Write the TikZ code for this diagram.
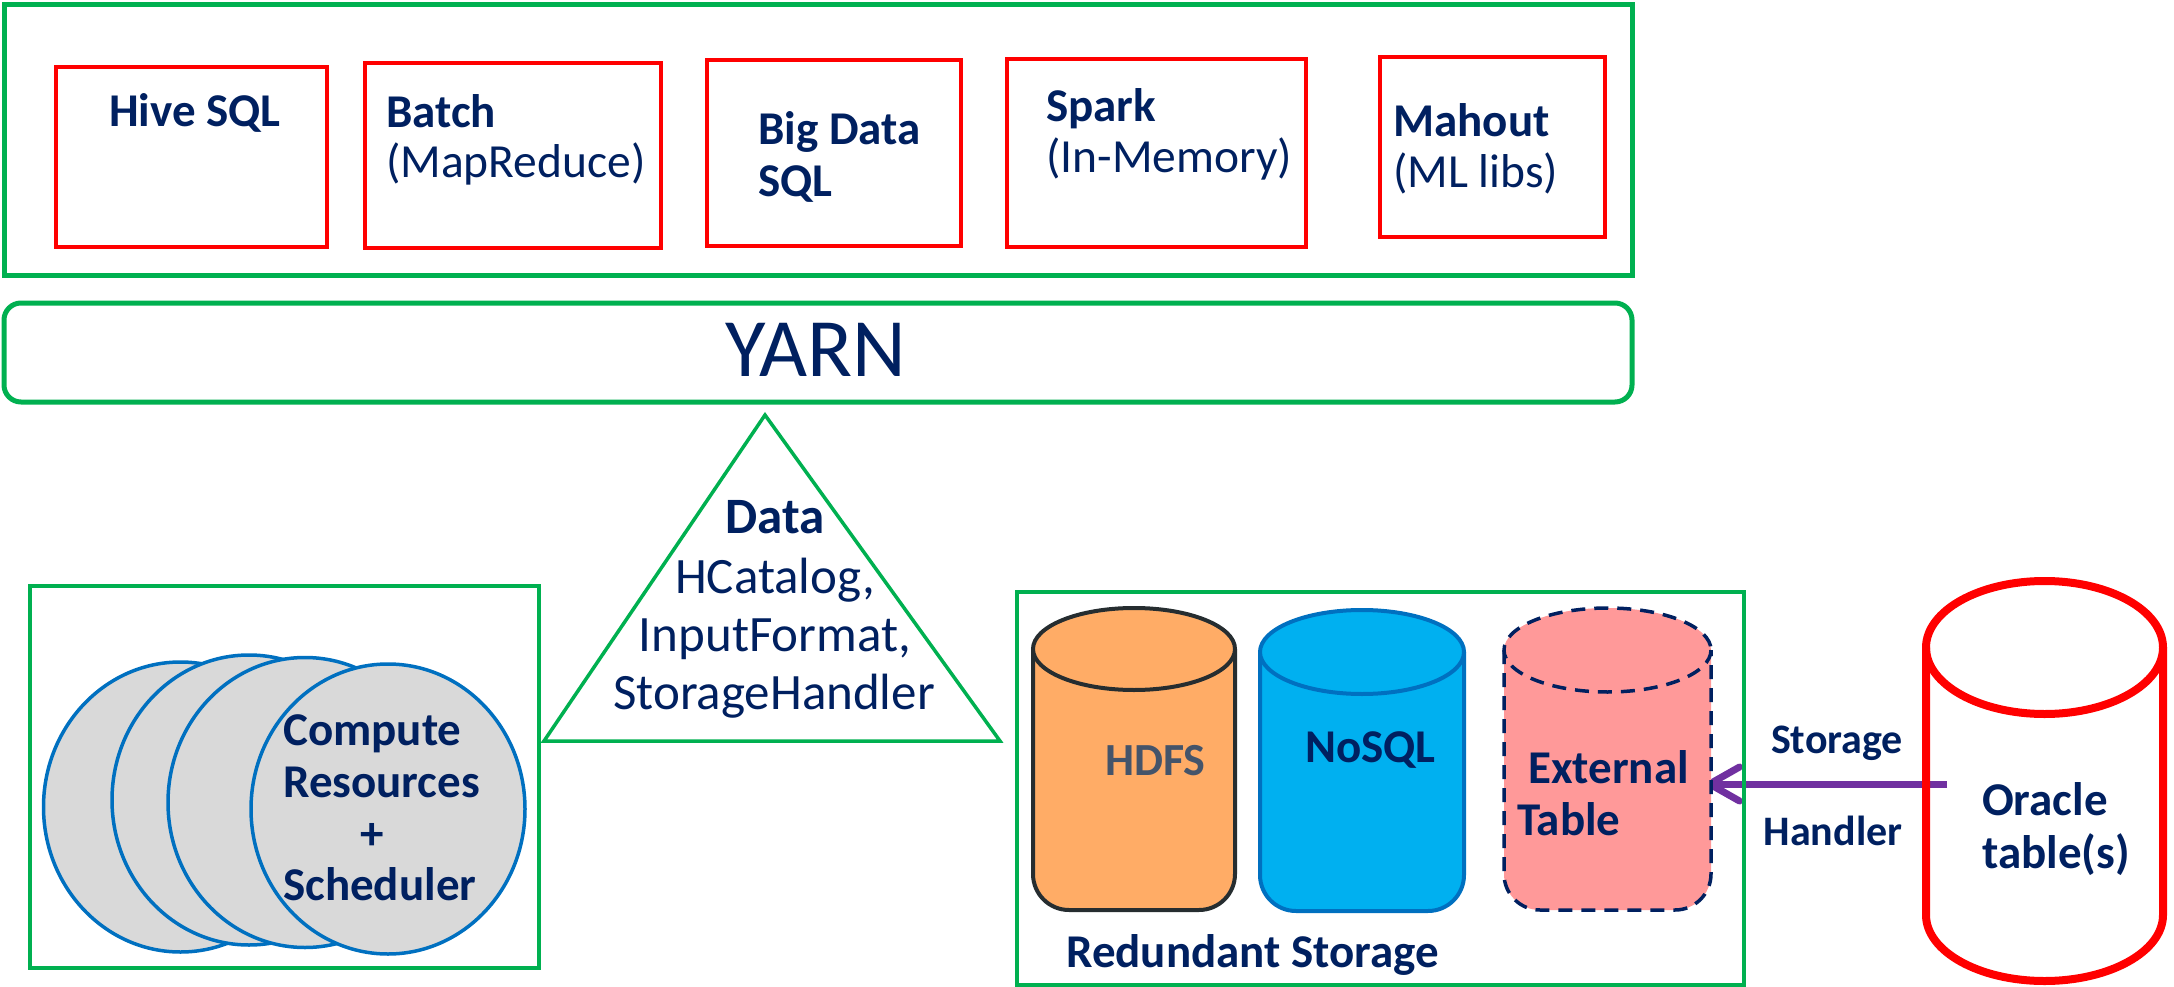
\documentclass[tikz,border=0pt]{standalone}
\usepackage{fontspec}
\setmainfont{Carlito}
\usetikzlibrary{arrows.meta,shapes.geometric}
\definecolor{navy}{HTML}{002060}
\definecolor{grn}{HTML}{00B050}
\definecolor{rd}{HTML}{FF0000}
\definecolor{blu}{HTML}{0070C0}
\definecolor{grayfill}{HTML}{D9D9D9}
\definecolor{cyanfill}{HTML}{00B0F0}
\definecolor{orangefill}{HTML}{FFAC66}
\definecolor{pinkfill}{HTML}{FF9999}
\definecolor{darkline}{HTML}{262D30}
\definecolor{hdfstext}{HTML}{44546A}
\definecolor{purp}{HTML}{7030A0}
\begin{document}
\begin{tikzpicture}[x=1pt,y=-1pt,
  greenbox/.style={draw=grn, line width=5pt, inner sep=0pt},
  redbox/.style={draw=rd, line width=3.5pt, inner sep=0pt},
  lbl/.style={text=navy, inner sep=0pt, font=\fontsize{47.5}{52}\selectfont},
  blbl/.style={text=navy, inner sep=0pt, font=\fontsize{47}{52}\selectfont\bfseries},
  tlbl/.style={text=navy, inner sep=0pt, font=\fontsize{51}{58}\selectfont},
  slbl/.style={text=navy, inner sep=0pt, font=\fontsize{42}{48}\selectfont\bfseries},
  disc/.style={ellipse, draw=blu, fill=grayfill, line width=3.5pt, inner sep=0pt, minimum width=274pt, minimum height=290pt},
]
\useasboundingbox (0,0) rectangle (2174,987);

% ---------- top application layer ----------
\node[greenbox, minimum width=1628pt, minimum height=270.5pt] (apps) at (818,139.75) {};
\node[redbox, minimum width=271pt, minimum height=180pt] (hive) at (191.5,157) {};
\node[redbox, minimum width=296pt, minimum height=185pt] (batch) at (513,155.5) {};
\node[redbox, minimum width=254pt, minimum height=186pt] (bigdata) at (834,153) {};
\node[redbox, minimum width=299pt, minimum height=188pt] (spark) at (1156.5,153) {};
\node[redbox, minimum width=225pt, minimum height=180pt] (mahout) at (1492.5,147) {};

\node[blbl, anchor=base west] (hivet) at (109,127) {Hive SQL};
\node[blbl, anchor=base west] (batcht) at (386,128) {Batch};
\node[lbl, anchor=base west] (batchs) at (386,178) {(MapReduce)};
\node[blbl, anchor=base west] (bigt) at (758,145) {Big Data};
\node[blbl, anchor=base west] (bigs) at (758,197) {SQL};
\node[blbl, anchor=base west] (sparkt) at (1046,122) {Spark};
\node[lbl, anchor=base west] (sparks) at (1046,173) {(In-Memory)};
\node[blbl, anchor=base west] (mahoutt) at (1393,137) {Mahout};
\node[lbl, anchor=base west] (mahouts) at (1393,188) {(ML libs)};

% ---------- YARN ----------
\node[greenbox, rounded corners=17pt, minimum width=1628pt, minimum height=99pt] (yarn) at (818,352.5) {};
\node[text=navy, inner sep=0pt, font=\fontsize{83}{90}\selectfont, anchor=base] (yarnt) at (816,376) {YARN};

% ---------- Data triangle ----------
\draw[grn, line width=3.5pt] (765,415) -- (1000,741) -- (544,741) -- cycle;
\node[tlbl, font=\fontsize{51}{58}\selectfont\bfseries, anchor=base] (datat) at (775,533) {Data};
\node[tlbl, anchor=base] (hcat) at (775,593) {HCatalog,};
\node[tlbl, anchor=base] (inpf) at (775,651) {InputFormat,};
\node[tlbl, anchor=base] (sth) at (774,709) {StorageHandler};

% ---------- Compute ----------
\node[greenbox, line width=4pt, minimum width=509.5pt, minimum height=382pt] (compute) at (284.25,777) {};
\node[disc] (c1) at (180.5,807) {};
\node[disc] (c2) at (249,800) {};
\node[disc] (c3) at (305,802.5) {};
\node[disc] (c4) at (388,809) {};
\node[blbl, anchor=base west] (compt) at (283,745) {Compute};
\node[blbl, anchor=base west] (rest) at (283,797) {Resources};
\node[blbl, anchor=base] (plust) at (372,849) {+};
\node[blbl, anchor=base west] (schedt) at (283,900) {Scheduler};

% ---------- arrow ----------
\coordinate (orA) at (1947,784);
\coordinate (extA) at (1706,784);
\draw[purp, line width=7pt, -{Straight Barb[length=30pt,width=34pt,round]}] (orA) -- (extA);

% ---------- Redundant storage ----------
\node[greenbox, line width=4pt, minimum width=727pt, minimum height=393pt] (redund) at (1380,788.5) {};

% HDFS cylinder
\fill[orangefill, rounded corners=36pt] (1033,649) -- (1033,910) -- (1235,910) -- (1235,649);
\draw[darkline, line width=4pt, rounded corners=36pt] (1033,649) -- (1033,910) -- (1235,910) -- (1235,649);
\draw[fill=orangefill, draw=darkline, line width=4pt] (1134,649) ellipse [x radius=101, y radius=41];
% NoSQL cylinder
\fill[cyanfill, rounded corners=36pt] (1260,652) -- (1260,911) -- (1464,911) -- (1464,652);
\draw[blu, line width=4pt, rounded corners=36pt] (1260,652) -- (1260,911) -- (1464,911) -- (1464,652);
\draw[fill=cyanfill, draw=blu, line width=4pt] (1362,652) ellipse [x radius=102, y radius=42];
% External table cylinder
\fill[pinkfill, rounded corners=36pt] (1504,650) -- (1504,910) -- (1711,910) -- (1711,650);
\draw[navy, line width=3.5pt, dash pattern=on 14pt off 9pt, rounded corners=36pt] (1504,650) -- (1504,910) -- (1711,910) -- (1711,650);
\draw[fill=pinkfill, draw=navy, line width=3.5pt, dash pattern=on 14pt off 9pt] (1607.5,650) ellipse [x radius=103.5, y radius=42];

\node[text=hdfstext, inner sep=0pt, font=\fontsize{46}{52}\selectfont\bfseries, anchor=base west] (hdfst) at (1105,775) {HDFS};
\node[blbl, anchor=base west] (nosqlt) at (1305,762) {NoSQL};
\node[blbl, anchor=base west] (extt) at (1528,783) {External};
\node[blbl, anchor=base west] (tablet) at (1517,835) {Table};
\node[blbl, anchor=base west] (redt) at (1066,967) {Redundant Storage};

% ---------- Oracle cylinder ----------
\draw[rd, line width=8pt] (1926,647.5) -- (1926,915) arc[start angle=180, end angle=0, x radius=118.5, y radius=66] -- (2163,647.5);
\draw[rd, line width=8pt] (2044.5,647.5) ellipse [x radius=118.5, y radius=66.5];
\node[blbl, anchor=base west] (oraclet) at (1982,815) {Oracle};
\node[blbl, anchor=base west] (tablest) at (1982,868) {table(s)};

\node[slbl, anchor=base] (stor) at (1837,753) {Storage};
\node[slbl, anchor=base] (hand) at (1833,845) {Handler};
\end{tikzpicture}
\end{document}
